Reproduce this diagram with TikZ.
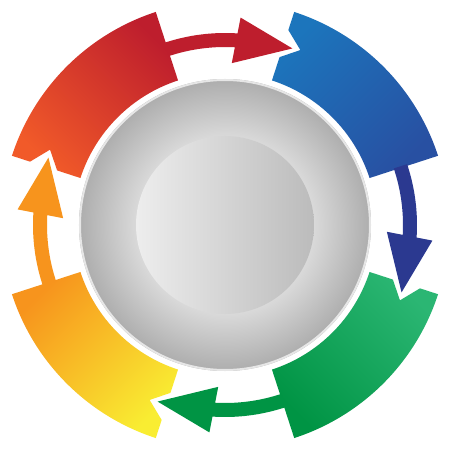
\documentclass[tikz,border=0pt]{standalone}
\usepackage{xcolor}
\usepackage{tikz}
\usetikzlibrary{calc}

\definecolor{redA}{HTML}{F15A29}
\definecolor{redB}{HTML}{BE1E2D}
\definecolor{blueA}{HTML}{1C75BC}
\definecolor{blueB}{HTML}{2B3990}
\definecolor{blueE}{HTML}{2850A2}
\definecolor{greenA}{HTML}{2BB673}
\definecolor{greenB}{HTML}{009444}
\definecolor{yellowA}{HTML}{F9ED32}
\definecolor{yellowB}{HTML}{F7941D}
\definecolor{ringlight}{HTML}{DADADA}
\definecolor{ringdark}{HTML}{ADADAD}
\definecolor{rimline}{HTML}{E6E6E6}
\pgfdeclareradialshading{discshade}{\pgfpoint{0bp}{0bp}}{color(0bp)=(ringlight); color(15bp)=(ringlight); color(25bp)=(ringdark); color(50bp)=(ringdark)}

\begin{document}
\begin{tikzpicture}[x=1pt, y=1pt, shaft/.style={line width=14pt}]
    \fill[white] (-225,-225) rectangle (225,225);
    \coordinate (hub) at (0,0);

    \foreach \m/\c/\e in {135/red/redB, 45/blue/blueE, -45/green/greenB, -135/yellow/yellowB} {
        \pgfmathsetmacro\sa{\m-180}
        \shade[top color=\e, bottom color=\c A, shading angle=\sa]
            (\m+27:224) arc[start angle=\m+27, end angle=\m-27, radius=224]
            -- (\m-27:152) arc[start angle=\m-27, end angle=\m+27, radius=152]
            -- (\m+27:176.5) -- (\m+21.7:190.5) -- (\m+27:205) -- cycle;
        \fill[\c B] (\m-49.3:208) -- (\m-65.9:189) -- (\m-47.4:162) -- cycle;
        \draw[\c B, shaft] (\m-26.5:185) arc[start angle=\m-26.5, end angle=\m-49, radius=185];
    }

    \shade[shading=discshade] (hub) circle (146);
    \draw[rimline, line width=2pt] (hub) circle (145);
    \shade[left color=gray!14, right color=gray!53] (hub) circle (89);
\end{tikzpicture}
\end{document}
